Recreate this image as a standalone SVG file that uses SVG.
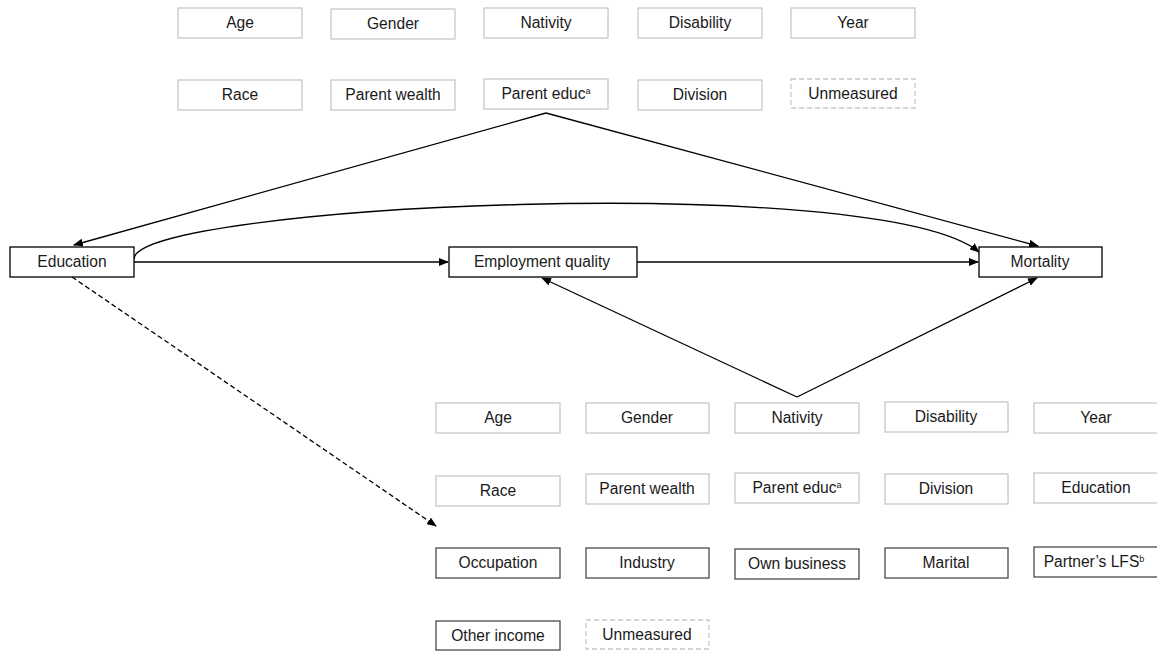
<svg xmlns="http://www.w3.org/2000/svg" width="1157" height="652" viewBox="0 0 1157 652">
<defs>
<marker id="ah" markerWidth="10" markerHeight="8" refX="9" refY="4" orient="auto" markerUnits="userSpaceOnUse">
<path d="M0,0 L10,4 L0,8 Z" fill="#000"/>
</marker>
<style>
text{font-family:"Liberation Sans",Arial,sans-serif;font-size:15.6px;fill:#1a1a1a;text-anchor:middle}
.sup{font-size:9px}
.lt{fill:#fff;stroke:#c8c8c8;stroke-width:1.3}
.ds{fill:#fff;stroke:#c8c8c8;stroke-width:1.3;stroke-dasharray:5,3}
.dk{fill:#fff;stroke:#4a4a4a;stroke-width:1.3}
.mn{fill:#fff;stroke:#000;stroke-width:1.3}
.ln{fill:none;stroke:#000;stroke-width:1.3}
</style>
</defs>
<rect width="1157" height="652" fill="#fff"/>

<g id="connectors">
<path class="ln" d="M546,113 L74,245" marker-end="url(#ah)"/>
<path class="ln" d="M546,113 L1038,246" marker-end="url(#ah)"/>
<path class="ln" d="M134,259 C134,205 880,170 979,252" marker-end="url(#ah)"/>
<path class="ln" d="M134,262 L448,262" marker-end="url(#ah)"/>
<path class="ln" d="M637,262 L978,262" marker-end="url(#ah)"/>
<path class="ln" d="M797,397 L542,278" marker-end="url(#ah)"/>
<path class="ln" d="M797,397 L1037,278" marker-end="url(#ah)"/>
<path class="ln" d="M72,277 L436,526" stroke-dasharray="5,3" marker-end="url(#ah)"/>
</g>

<g id="n-age1"><rect class="lt" x="178" y="8" width="124" height="30"/><text x="240" y="28">Age</text></g>
<g id="n-gender1"><rect class="lt" x="331" y="9" width="124" height="30"/><text x="393" y="29">Gender</text></g>
<g id="n-nativity1"><rect class="lt" x="484" y="8" width="124" height="30"/><text x="546" y="28">Nativity</text></g>
<g id="n-disability1"><rect class="lt" x="638" y="8" width="124" height="30"/><text x="700" y="28">Disability</text></g>
<g id="n-year1"><rect class="lt" x="791" y="8" width="124" height="30"/><text x="853" y="28">Year</text></g>

<g id="n-race1"><rect class="lt" x="178" y="80" width="124" height="30"/><text x="240" y="100">Race</text></g>
<g id="n-pwealth1"><rect class="lt" x="331" y="80" width="124" height="30"/><text x="393" y="100">Parent wealth</text></g>
<g id="n-peduc1"><rect class="lt" x="484" y="79" width="124" height="30"/><text x="546" y="99">Parent educ<tspan class="sup" dy="-5">a</tspan></text></g>
<g id="n-division1"><rect class="lt" x="638" y="80" width="124" height="30"/><text x="700" y="100">Division</text></g>
<g id="n-unmeasured1"><rect class="ds" x="791" y="79" width="124" height="29"/><text x="853" y="99">Unmeasured</text></g>

<g id="n-education"><rect class="mn" x="10" y="247" width="124" height="30"/><text x="72" y="267">Education</text></g>
<g id="n-employment"><rect class="mn" x="449" y="247" width="188" height="30"/><text x="542" y="267">Employment quality</text></g>
<g id="n-mortality"><rect class="mn" x="979" y="247" width="123" height="30"/><text x="1040" y="267">Mortality</text></g>

<g id="n-age2"><rect class="lt" x="436" y="403" width="124" height="30"/><text x="498" y="423">Age</text></g>
<g id="n-gender2"><rect class="lt" x="586" y="403" width="123" height="30"/><text x="647" y="423">Gender</text></g>
<g id="n-nativity2"><rect class="lt" x="735" y="403" width="124" height="30"/><text x="797" y="423">Nativity</text></g>
<g id="n-disability2"><rect class="lt" x="885" y="402" width="123" height="30"/><text x="946" y="422">Disability</text></g>
<g id="n-year2"><rect class="lt" x="1034" y="403" width="124" height="30"/><text x="1096" y="423">Year</text></g>

<g id="n-race2"><rect class="lt" x="436" y="476" width="124" height="30"/><text x="498" y="496">Race</text></g>
<g id="n-pwealth2"><rect class="lt" x="586" y="474" width="123" height="30"/><text x="647" y="494">Parent wealth</text></g>
<g id="n-peduc2"><rect class="lt" x="735" y="473" width="124" height="30"/><text x="797" y="493">Parent educ<tspan class="sup" dy="-5">a</tspan></text></g>
<g id="n-division2"><rect class="lt" x="885" y="474" width="123" height="30"/><text x="946" y="494">Division</text></g>
<g id="n-education2"><rect class="lt" x="1034" y="473" width="124" height="30"/><text x="1096" y="493">Education</text></g>

<g id="n-occupation"><rect class="dk" x="436" y="548" width="124" height="30"/><text x="498" y="568">Occupation</text></g>
<g id="n-industry"><rect class="dk" x="586" y="548" width="123" height="30"/><text x="647" y="568">Industry</text></g>
<g id="n-ownbusiness"><rect class="dk" x="735" y="549" width="124" height="30"/><text x="797" y="569">Own business</text></g>
<g id="n-marital"><rect class="dk" x="885" y="548" width="123" height="30"/><text x="946" y="568">Marital</text></g>
<g id="n-partner"><rect class="dk" x="1034" y="547" width="124" height="30"/><text x="1094" y="567">Partner’s LFS<tspan class="sup" dy="-5">b</tspan></text></g>

<g id="n-otherincome"><rect class="dk" x="436" y="621" width="124" height="29"/><text x="498" y="641">Other income</text></g>
<g id="n-unmeasured2"><rect class="ds" x="586" y="620" width="123" height="29"/><text x="647" y="640">Unmeasured</text></g>
</svg>
